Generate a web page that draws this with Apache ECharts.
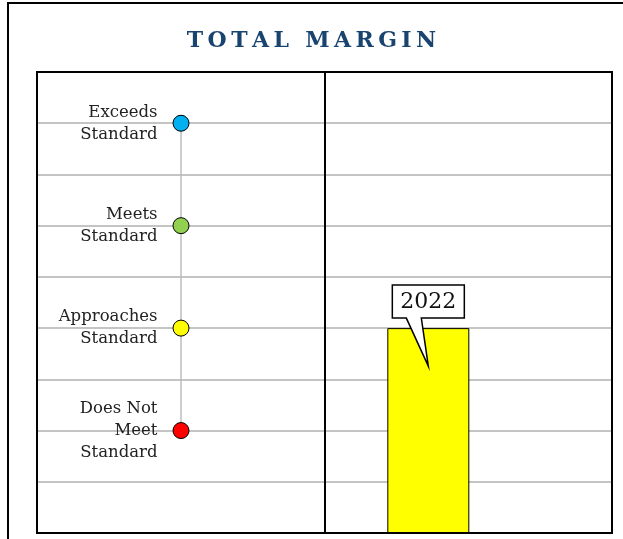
<!DOCTYPE html>
<html>
<head>
<meta charset="utf-8">
<script src="https://cdn.jsdelivr.net/npm/echarts@6/dist/echarts.min.js"></script>
<style>
  html, body { margin: 0; padding: 0; background: #fff; }
  #chart { width: 623px; height: 539px; }
</style>
</head>
<body>
<div id="chart"></div>
<script>
// Performance levels shown on the left scale
const levelNames = ['Exceeds\nStandard', 'Meets\nStandard', 'Approaches\nStandard', 'Does Not\nMeet\nStandard'];
const levelValues = [8, 6, 4, 2];
const levelColors = ['#00b0f0', '#92d050', '#ffff00', '#ff0000'];

// Measured result
const years = ['2022'];
const marginValues = [4];

const SERIF = '"DejaVu Serif", "Liberation Serif", serif';
const BAR_X = 0.36;          // horizontal spot of the bar inside the right panel
const TITLE = 'TOTAL MARGIN';
const spaced = TITLE.split('').join('\u2009');

const chart = echarts.init(document.getElementById('chart'));

const gridTop = 72, gridHeight = 461;

const option = {
  animation: false,
  backgroundColor: '#fff',
  title: {
    text: spaced,
    left: 'center',
    top: 25,
    textStyle: { fontFamily: SERIF, fontWeight: 'bold', fontSize: 22, color: '#1a4470' }
  },
  graphic: [{
    type: 'rect',
    shape: { x: 8, y: 3, width: 800, height: 800 },
    style: { fill: 'none', stroke: '#000', lineWidth: 2 },
    silent: true
  }],
  grid: [
    { left: 37, top: gridTop, width: 288, height: gridHeight, show: true, borderColor: '#000', borderWidth: 2, z: 5 },
    { left: 325, top: gridTop, width: 287, height: gridHeight, show: true, borderColor: '#000', borderWidth: 2, z: 5 }
  ],
  xAxis: [
    { gridIndex: 0, type: 'value', min: 0, max: 2, show: false },
    { gridIndex: 1, type: 'value', min: 0, max: 1, show: false }
  ],
  yAxis: [0, 1].map(i => ({
    gridIndex: i, type: 'value', min: 0, max: 9, interval: 1,
    axisLine: { show: false }, axisTick: { show: false }, axisLabel: { show: false },
    splitLine: { show: true, lineStyle: { color: '#c4c4c4', width: 2 } }
  })),
  series: [
    {
      type: 'line',
      xAxisIndex: 0, yAxisIndex: 0,
      data: levelValues.map((v, i) => ({
        value: [1, v],
        name: levelNames[i],
        itemStyle: { color: levelColors[i], borderColor: '#000', borderWidth: 1 }
      })),
      symbol: 'circle',
      symbolSize: 16,
      lineStyle: { color: '#bdbdbd', width: 1.5 },
      label: {
        show: true,
        position: 'left',
        distance: 15,
        formatter: p => p.name,
        fontFamily: SERIF,
        fontSize: 16.5,
        lineHeight: 22,
        color: '#222',
        align: 'right'
      },
      z: 3
    },
    {
      type: 'bar',
      xAxisIndex: 1, yAxisIndex: 1,
      data: marginValues.map(v => [BAR_X, v]),
      barWidth: 82,
      itemStyle: { color: '#ffff00', borderColor: '#000', borderWidth: 1 },
      z: 3
    },
    {
      type: 'custom',
      xAxisIndex: 1, yAxisIndex: 1,
      data: marginValues.map((v, i) => [BAR_X, v, years[i]]),
      z: 10,
      renderItem: (params, api) => {
        const p = api.coord([api.value(0), api.value(1)]);
        const cx = p[0], top = p[1];
        const w = 72, h = 33, gap = 10;
        const bx0 = cx - w / 2, bx1 = cx + w / 2;
        const by1 = top - gap, by0 = by1 - h;
        const tip = [cx, top + 38];
        const points = [
          [bx0, by0], [bx1, by0], [bx1, by1],
          [cx - 7, by1], tip, [cx - 22, by1],
          [bx0, by1]
        ];
        return {
          type: 'group',
          children: [
            {
              type: 'polygon',
              shape: { points },
              style: { fill: '#fff', stroke: '#000', lineWidth: 1.5 }
            },
            {
              type: 'text',
              style: {
                text: years[params.dataIndex],
                x: cx, y: (by0 + by1) / 2 + 1,
                align: 'center', verticalAlign: 'middle',
                font: '22px ' + SERIF,
                fill: '#111'
              }
            }
          ]
        };
      }
    }
  ]
};

chart.setOption(option);
</script>
</body>
</html>
